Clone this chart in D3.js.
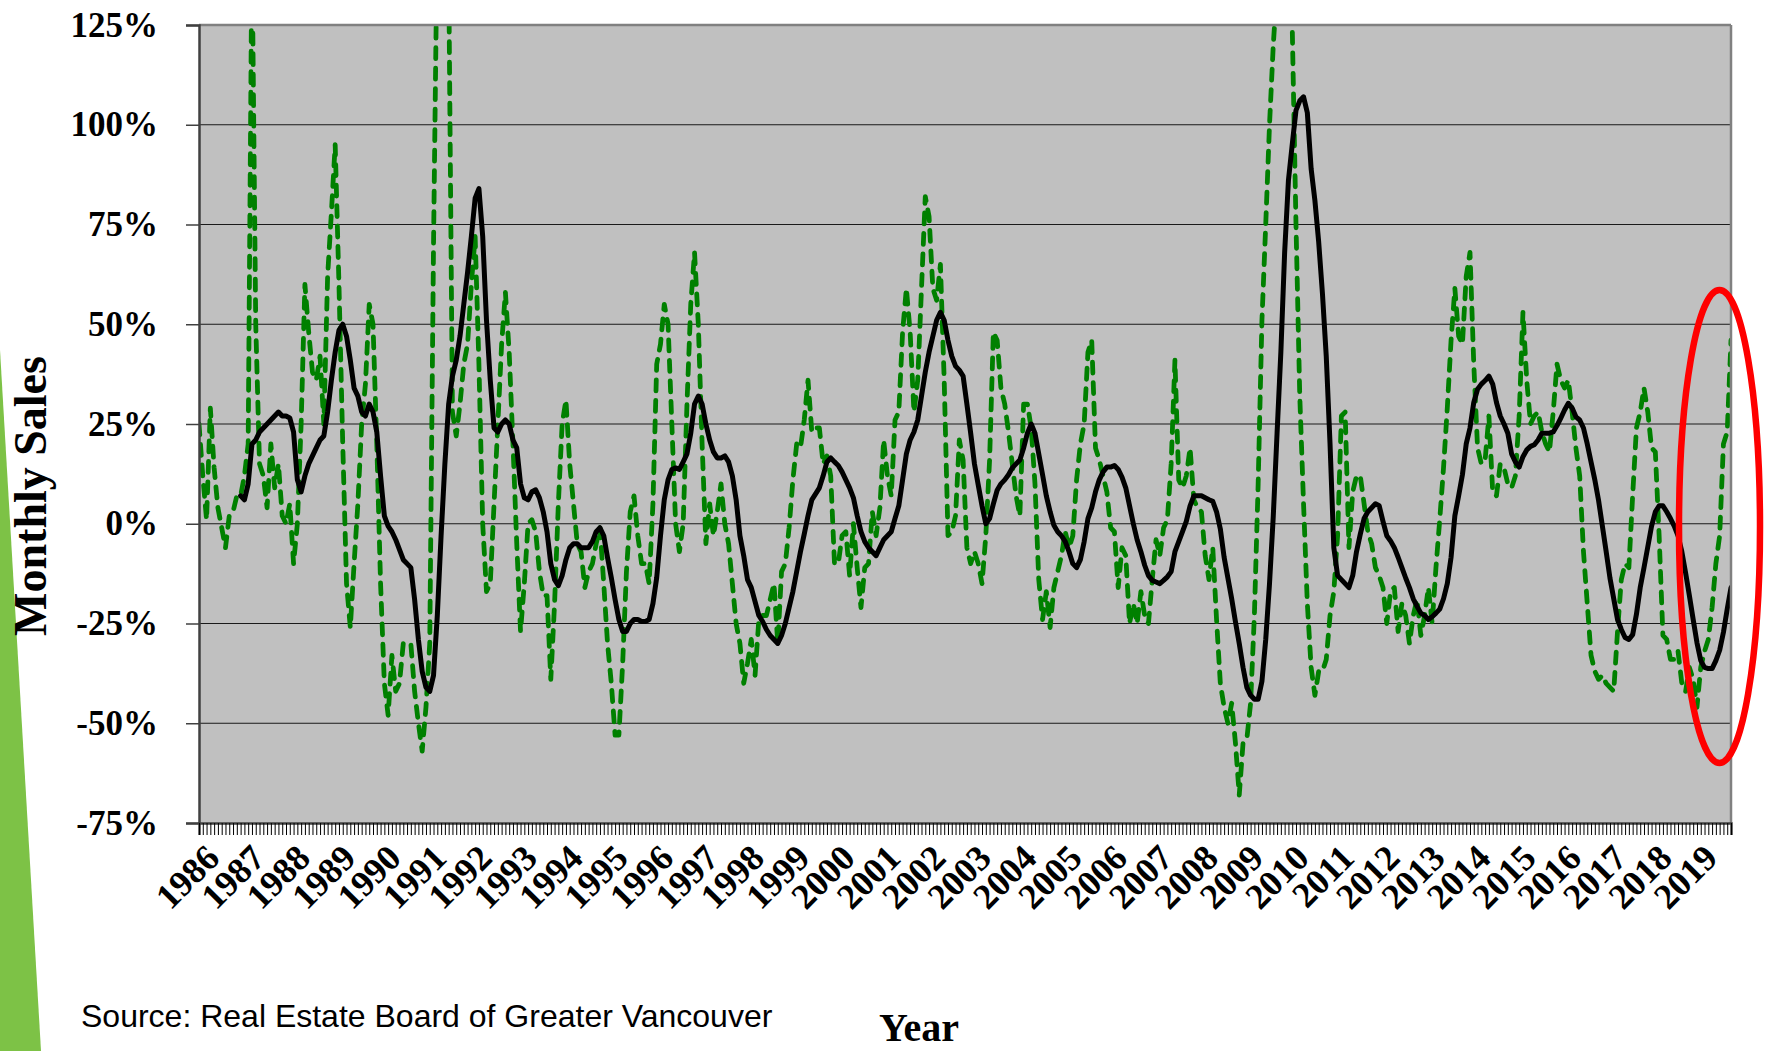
<!DOCTYPE html>
<html><head><meta charset="utf-8">
<script src="https://cdn.jsdelivr.net/npm/d3@7"></script>
<style>html,body{margin:0;padding:0;background:#fff;} svg{display:block;}</style>
</head><body><svg id="chart" width="1767" height="1051"></svg>
<script>
// ---------- DATA (monthly, Jan 1986 onward) ----------
const startYear = 1986;
const yearLabels = ["1986","1987","1988","1989","1990","1991","1992","1993","1994","1995","1996","1997","1998","1999","2000","2001","2002","2003","2004","2005","2006","2007","2008","2009","2010","2011","2012","2013","2014","2015","2016","2017","2018","2019"];
const yTicks = [-75, -50, -25, 0, 25, 50, 75, 100, 125];

// year-over-year % change in monthly sales (green dashed)
const monthlyChange = [
25,12,1,29,14,4,-1,-6,2,3,7,7,
12,20,145,50,15,12,4,20,9,15,2,0,
5,-10,0,25,60,48,38,36,42,25,62,78,
95,60,20,-15,-26,-10,5,25,35,55,50,20,
-15,-40,-48,-33,-42,-40,-30,-30,
-30,-42,-50,-57,-46,-30,70,150,170,165,140,28,22,30,40,45,60,72,40,0,-17,
-15,5,25,45,58,43,20,-5,-27,-15,0,1,-2,-12,-18,-18,-39,-20,5,25,31,15,5,-5,-7,-16,-12,-10,-5,-1,-15,-30,-40,-53,-53,-35,-12,3,7,-3,-10,-10,-15,5,40,45,55,50,25,0,-7,0,30,55,68,50,20,-5,5,-3,3,10,0,-5,-15,-25,-30,-40,-35,-29,-38,-24,-23,-23,-19,-15,-30,-12,-10,-1,11,20,19,26,36,23,
24,
24,15,17,12,-10,-10,-3,-2,-13,0,-11,-21,-11,-10,3,-3,4,21,12,7,26,28,48,59,48,28,36,59,82,77,59,56,65,36,-3,-2,2,21,16,-6,-10,-7,-10,-15,-3,16,48,46,34,30,23,15,7,2,30,30,24,10,-14,-24,-17,-26,-16,-12,-8,-2,-6,-3,11,20,25,43,46,19,16,12,8,-1,-2,-16,-6,-8,-25,-20,-25,-17,-23,-25,-14,-4,-8,-1,1,15,41,11,9,12,19,6,
4,
3,-8,-14,-6,-24,-40,-46,-50,-45,-55,-68,-55,-54,-45,-23,10,51,75,100,120,135,150,150,145,125,75,32,5,-20,-36,-43,-37,-37,-34,-23,-17,-3,27,28,-6,8,12,12,5,-2,-5,-11,-13,-16,-25,-17,-16,-27,-20,-23,-30,-23,-19,-28,-23,-16,-25,-11,1,14,29,46,59,47,45,62,68,40,19,15,16,27,8,7,15,14,10,9,12,27,53,36,25,27,28,23,
20,
18,28,40,36,34,36,28,19,12,-7,-20,-33,-37,-39,-38,-40,-41,-42,-27,-14,-10,-11,7,24,28,34,28,19,18,-3,-28,-29,-34,-34,-32,-40,-42,-36,-39,-46,-36,-32,-29,-21,-10,-3,20,23,46
];

// moving average (black solid); first 11 months have no value
const movingAverage = [
null,null,null,null,null,null,null,null,null,null,null,
7,6,10,20,21,23,24,25,26,27,28,27,27,
26.5,23,11,8,12,15,17,19,21,22,28,36,
43,48.5,50,47,41,34,32,28,27,30,28,23,
12,2,-0.6,-2,-4,-6.5,-9,-10,
-11,-19,-29,-37,-41,-42,-38,-23,-3,15,30,37,41,47,55,63,72,81.6,84,72,51,
36,24,23,25,26,25,21,19,10,6.5,6,8,8.5,6.5,3,-2,-10,-14,-15.5,-13,-9,-6,-5,-5,-6,-6,-6,-4.5,-2,-1,-3,-8.5,-13.5,-19,-24,-27,-27,-25,-24,-24,-24.5,-24.5,-24,-20,-13.5,-3,6,11,13.6,14,13.6,15.5,17.5,22.7,30,32,30,25,21,18,16.5,16.5,17,15.5,12,6,-3,-8,-14,-16,-19.5,-23,-24.5,-26.5,-28,-29,-30,-28,-25,-21,-17,-12,-7,-2.6,2,6,
7.5,
9,12,15.5,16.5,15.5,14.6,13,11,9,6.5,2,-2,-4.5,-6,-7,-8,-6,-4,-3,-2,1.3,4.5,11,17.5,21,23,26,32,38,43,47,51,53,51,46,42,39.5,38.5,37,30,22.7,15,9.7,4.5,0,1.3,5,8.4,10,11,12.3,14,15,16,19,22.7,25,22.7,17.5,12.3,7,3,-0.4,-2,-3,-4.5,-7,-10,-11,-9,-4.5,1.3,4,8,11,13,14.2,14.2,14.6,13.6,11.7,9,4.5,0,-4,-7,-10.4,-13,-14.2,-14.6,-15,-14.2,-13.3,-12,-7,-4.5,-2,0.6,4.5,7,
7,
7,6.5,6,5.6,3,-1.3,-8.4,-13.6,-18.8,-24.6,-30,-36,-41,-43,-44,-44,-39.5,-29,-15,2,22.7,43,68,86,95,103.6,106,107,103,89,81,70.6,57.6,42,20,-6,-13,-14,-15,-16,-13,-7,-2.6,1.3,3,4,5,4.5,0.6,-3,-4.3,-6,-8.4,-11,-13.6,-16,-18.8,-20.7,-22.4,-23,-24,-23.3,-22.4,-21.4,-18.8,-15,-8.4,2,7,12.3,20,24,30.4,33.7,35,35.9,37,35,30.4,27,25,22.7,17.5,15.5,14.2,16.8,18.5,19.4,19.8,21,22.7,
22.7,
22.7,23,24.6,26.5,28.5,30.2,29,26.8,26,24,20,15.5,11,5.8,-0.6,-7,-13.6,-18.8,-24,-26.5,-28.5,-29,-27.8,-22.7,-16,-11,-5.8,-0.6,3,4.5,4.5,3,1.3,-0.6,-3,-7,-12.3,-18,-24,-29.8,-34.3,-36,-36.3,-36.3,-34.3,-31.7,-27.2,-21.4,-16
];

// ---------- LAYOUT ----------
const plot = {left: 199, right: 1731, top: 25, bottom: 823};
const serif = "'Liberation Serif','Times New Roman',serif";
const svg = d3.select("#chart");

// left decorative green strip
svg.append("path").attr("d", "M0,350 L41,1051 L0,1051 Z").attr("fill", "#7DC246");

const N = monthlyChange.length;
const x = d3.scaleLinear().domain([0, N - 1]).range([plot.left, plot.right]);
const y = d3.scaleLinear().domain([yTicks[0], yTicks[yTicks.length - 1]]).range([plot.bottom, plot.top]);

// plot background
svg.append("rect").attr("x", plot.left).attr("y", plot.top)
  .attr("width", plot.right - plot.left).attr("height", plot.bottom - plot.top)
  .attr("fill", "#C0C0C0");

// gridlines
svg.append("g").selectAll("line")
  .data(yTicks.filter(v => v > yTicks[0] && v < yTicks[yTicks.length - 1]))
  .join("line")
  .attr("x1", plot.left).attr("x2", plot.right)
  .attr("y1", d => y(d)).attr("y2", d => y(d))
  .attr("stroke", "#1a1a1a").attr("stroke-width", 1.2);

// clip
svg.append("defs").append("clipPath").attr("id", "clip")
  .append("rect").attr("x", plot.left).attr("y", plot.top)
  .attr("width", plot.right - plot.left).attr("height", plot.bottom - plot.top);

const g = svg.append("g").attr("clip-path", "url(#clip)");

g.append("path")
  .datum(monthlyChange)
  .attr("fill", "none").attr("stroke", "#008000").attr("stroke-width", 4.8)
  .attr("stroke-dasharray", "11,9.5").attr("stroke-linecap", "round").attr("stroke-linejoin", "round")
  .attr("d", d3.line().x((d, i) => x(i)).y(d => y(d)));

g.append("path")
  .datum(movingAverage)
  .attr("fill", "none").attr("stroke", "#000").attr("stroke-width", 5)
  .attr("stroke-linejoin", "round").attr("stroke-linecap", "round")
  .attr("d", d3.line().defined(d => d != null).x((d, i) => x(i)).y(d => y(d)));

// borders
svg.append("line").attr("x1", plot.left).attr("x2", plot.right).attr("y1", plot.top).attr("y2", plot.top)
  .attr("stroke", "#808080").attr("stroke-width", 2.5);
svg.append("line").attr("x1", plot.right).attr("x2", plot.right).attr("y1", plot.top).attr("y2", plot.bottom)
  .attr("stroke", "#808080").attr("stroke-width", 2.5);

// y axis
const yAxis = svg.append("g").attr("transform", `translate(${plot.left},0)`)
  .call(d3.axisLeft(y).tickValues(yTicks).tickSize(13).tickPadding(28).tickFormat(d => d + "%"));
yAxis.select(".domain").attr("stroke", "#404040").attr("stroke-width", 2.5);
yAxis.selectAll(".tick line").attr("stroke", "#404040").attr("stroke-width", 1.5);
yAxis.selectAll(".tick text").attr("fill", "#000")
  .style("font-family", serif).style("font-weight", "bold").style("font-size", "35px");

// x axis: monthly minor ticks
const xAxis = svg.append("g").attr("transform", `translate(0,${plot.bottom})`)
  .call(d3.axisBottom(x).tickValues(d3.range(N)).tickSize(12).tickFormat(""));
xAxis.select(".domain").attr("stroke", "#404040").attr("stroke-width", 2.5);
xAxis.selectAll(".tick line").attr("stroke", "#000").attr("stroke-width", 1);

// year labels (rotated)
const labelG = svg.append("g").attr("transform", `translate(0,${plot.bottom})`);
labelG.selectAll("text").data(yearLabels).join("text")
  .attr("transform", d => `translate(${x((+d - startYear) * 12) + 22.5},37) rotate(-45)`)
  .attr("text-anchor", "end")
  .style("font-family", serif).style("font-weight", "bold").style("font-size", "36px")
  .attr("fill", "#000")
  .text(d => d);

// axis titles
svg.append("text").attr("transform", "translate(46,496) rotate(-90)")
  .attr("text-anchor", "middle")
  .style("font-family", serif).style("font-weight", "bold").style("font-size", "46px")
  .text("Monthly Sales");
svg.append("text").attr("x", 919).attr("y", 1041).attr("text-anchor", "middle")
  .style("font-family", serif).style("font-weight", "bold").style("font-size", "40px")
  .text("Year");
svg.append("text").attr("x", 81).attr("y", 1027)
  .style("font-family", "'Liberation Sans',Arial,sans-serif").style("font-size", "32px")
  .text("Source: Real Estate Board of Greater Vancouver");

// red highlight ellipse
svg.append("ellipse").attr("cx", 1719.5).attr("cy", 526.5).attr("rx", 40.5).attr("ry", 236.5)
  .attr("fill", "none").attr("stroke", "#FF0000").attr("stroke-width", 6.5);
</script>
</body></html>
